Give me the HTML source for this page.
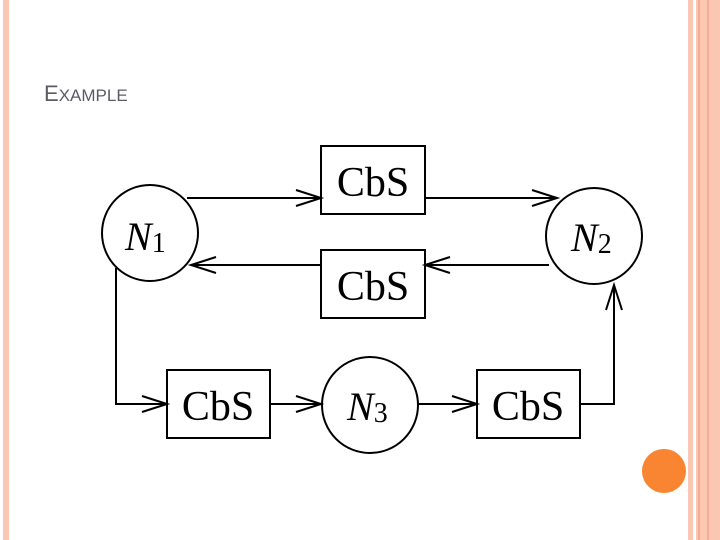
<!DOCTYPE html>
<html><head><meta charset="utf-8"><style>
html,body{margin:0;padding:0;background:#fff}
svg{display:block}
</style></head><body>
<svg width="720" height="540" viewBox="0 0 720 540" xmlns="http://www.w3.org/2000/svg">
<rect x="0" y="0" width="720" height="540" fill="#fff"/>
<rect x="3" y="0" width="6" height="540" fill="#f9c7b4"/>
<rect x="688" y="0" width="5" height="540" fill="#f9c7b4"/>
<rect x="696" y="0" width="24" height="540" fill="#fbc6b2"/>
<rect x="698" y="0" width="2" height="540" fill="#f4ad94"/>
<rect x="707" y="0" width="2" height="540" fill="#f4ad94"/>
<circle cx="664" cy="471" r="22" fill="#f98532"/>
<text x="44" y="101" font-family="Liberation Sans, sans-serif" font-size="22" fill="#5a5d66">E<tspan font-size="17">XAMPLE</tspan></text>
<g stroke="#000" stroke-width="2" fill="none">
<circle cx="150" cy="233" r="48"/>
<circle cx="594" cy="236" r="48"/>
<circle cx="370" cy="405" r="48"/>
<rect x="321" y="146" width="104" height="68" fill="#fff"/>
<rect x="321" y="250" width="104" height="68" fill="#fff"/>
<rect x="167" y="370" width="103" height="68" fill="#fff"/>
<rect x="477" y="370" width="103" height="68" fill="#fff"/>
<path d="M187 198H321M296 190L321 198L296 206"/>
<path d="M425 198H557M532 190L557 198L532 206"/>
<path d="M549 265H425M450 257L425 265L450 273"/>
<path d="M321 265H191M216 257L191 265L216 273"/>
<path d="M116 268V404H167M142 396L167 404L142 412"/>
<path d="M270 404H321M296 396L321 404L296 412"/>
<path d="M418 404H477M452 396L477 404L452 412"/>
<path d="M580 404H614V285M606 310L614 285L622 310"/>
</g>
<g font-family="Liberation Serif, serif" font-size="42" text-anchor="middle" fill="#000">
<text x="373" y="196">CbS</text>
<text x="373" y="300">CbS</text>
<text x="218" y="420">CbS</text>
<text x="528" y="420">CbS</text>
</g>
<g font-family="Liberation Serif, serif" font-size="40" font-style="italic" fill="#000">
<text x="125" y="250">N<tspan font-style="normal" font-size="28" dy="2">1</tspan></text>
<text x="571" y="251">N<tspan font-style="normal" font-size="28" dy="2">2</tspan></text>
<text x="347" y="420">N<tspan font-style="normal" font-size="28" dy="2">3</tspan></text>
</g>
</svg>
</body></html>
